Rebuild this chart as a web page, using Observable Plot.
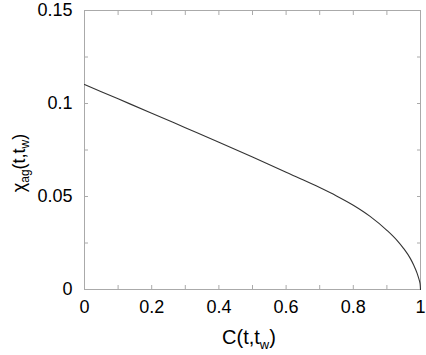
<!DOCTYPE html>
<html>
<head>
<meta charset="utf-8">
<script src="https://cdn.jsdelivr.net/npm/d3@7"></script>
<script src="https://cdn.jsdelivr.net/npm/@observablehq/plot@0.6"></script>
<style>
  html, body { margin: 0; padding: 0; background: #fff; }
  svg { display: block; }
</style>
</head>
<body>
<div id="chart"></div>
<script>
// Curve: C(t,t_w) -> chi_ag(t,t_w)
const C =   [0, 0.1, 0.2, 0.3, 0.4, 0.5, 0.6, 0.65, 0.7, 0.75, 0.8, 0.85, 0.9, 0.93, 0.95, 0.97, 0.98, 0.99, 0.995, 0.998, 0.999, 1.0];
const chi = [0.1102, 0.1025, 0.0948, 0.0870, 0.0792, 0.0712, 0.0630, 0.0590, 0.0548, 0.0503, 0.0453, 0.0393, 0.0318, 0.0264, 0.0220, 0.0166, 0.0130, 0.0087, 0.0058, 0.0038, 0.0027, 0];

const xMajor = [0, 0.2, 0.4, 0.6, 0.8, 1];
const xMinor = [0.1, 0.3, 0.5, 0.7, 0.9];
const yMajor = [0, 0.05, 0.1, 0.15];
const yMinor = [0.025, 0.075, 0.125];

const data = C.map((c, i) => ({c, v: chi[i]}));

const frameColor = "#aaaaaa";
const font = "'Liberation Sans', Arial, Helvetica, sans-serif";

const plot = Plot.plot({
  width: 426,
  height: 355,
  marginLeft: 84,
  marginRight: 6,
  marginTop: 10,
  marginBottom: 66,
  style: {fontFamily: font, fontSize: "18px", background: "white", color: "black"},
  x: {domain: [0, 1]},
  y: {domain: [0, 0.15]},
  marks: [
    Plot.frame({stroke: frameColor}),
    // inward ticks on all four sides
    Plot.axisX(xMajor.concat(xMinor), {anchor: "bottom", tickSize: -4, tickFormat: () => "", stroke: frameColor, label: null}),
    Plot.axisX(xMajor.concat(xMinor), {anchor: "top", tickSize: -4, tickFormat: () => "", stroke: frameColor, label: null}),
    Plot.axisY(yMajor.concat(yMinor), {anchor: "left", tickSize: -4, tickFormat: () => "", stroke: frameColor, label: null}),
    Plot.axisY(yMajor.concat(yMinor), {anchor: "right", tickSize: -4, tickFormat: () => "", stroke: frameColor, label: null}),
    // tick labels
    Plot.axisX(xMajor, {anchor: "bottom", tickSize: 0, tickPadding: 11, tickFormat: d => String(d), label: null, fill: "black", fontSize: 18}),
    Plot.axisY(yMajor, {anchor: "left", tickSize: 0, tickPadding: 12, tickFormat: d => String(d), label: null, fill: "black", fontSize: 18}),
    Plot.line(data, {x: "c", y: "v", stroke: "#333", strokeWidth: 1.1, curve: "monotone-x"})
  ]
});

document.getElementById("chart").appendChild(plot);

const svg = d3.select(plot);
// x title: C(t,t_w)
const xt = svg.append("text")
  .attr("x", 249).attr("y", 344)
  .attr("text-anchor", "middle")
  .attr("font-family", font).attr("font-size", 20).attr("fill", "black");
xt.append("tspan").text("C(t,t");
xt.append("tspan").attr("dy", 5).attr("font-size", 13).text("w");
xt.append("tspan").attr("dy", -5).text(")");

// y title: chi_ag(t,t_w)
const yt = svg.append("text")
  .attr("transform", "translate(25,163) rotate(-90)")
  .attr("text-anchor", "middle")
  .attr("font-family", font).attr("font-size", 18).attr("fill", "black");
yt.append("tspan").text("χ");
yt.append("tspan").attr("dy", 4).attr("font-size", 12).text("ag");
yt.append("tspan").attr("dy", -4).text("(t,t");
yt.append("tspan").attr("dy", 4).attr("font-size", 12).text("w");
yt.append("tspan").attr("dy", -4).text(")");
</script>
</body>
</html>
